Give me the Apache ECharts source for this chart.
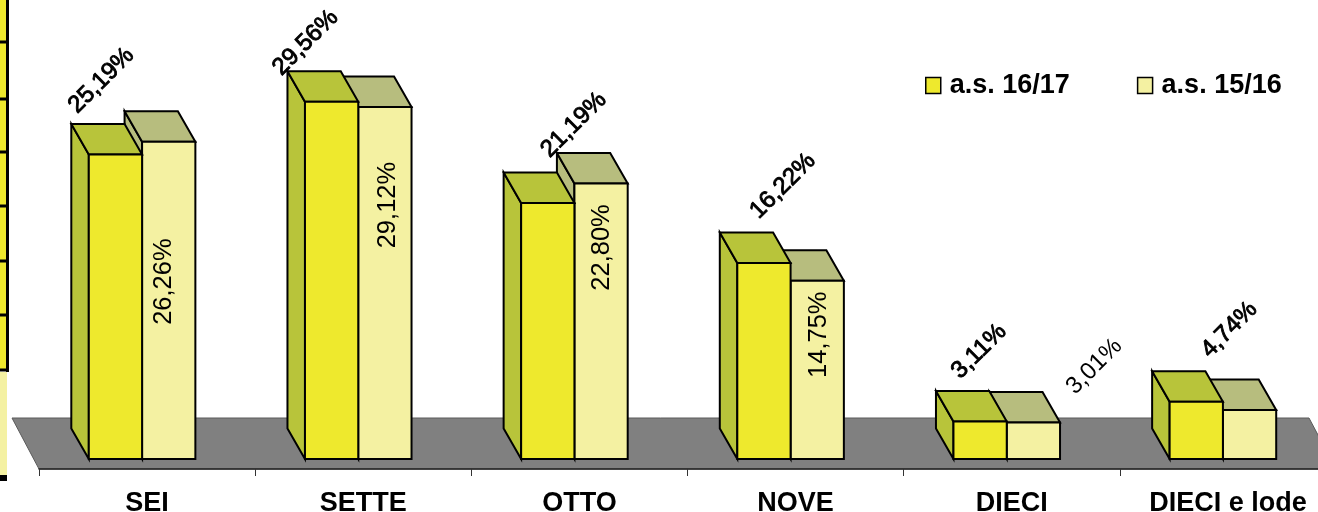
<!DOCTYPE html>
<html>
<head>
<meta charset="utf-8">
<style>html,body{margin:0;padding:0;background:#fff}#c{width:1318px;height:512px}</style>
<script src="https://cdn.jsdelivr.net/npm/echarts@6/dist/echarts.min.js"></script>
</head>
<body>
<div id="c"></div>
<script>
var categories = ['SEI','SETTE','OTTO','NOVE','DIECI','DIECI e lode'];
var values1617 = [25.19,29.56,21.19,16.22,3.11,4.74];
var values1516 = [26.26,29.12,22.80,14.75,3.01,4.06];
var labels1617 = ['25,19%','29,56%','21,19%','16,22%','3,11%','4,74%'];
var labels1516 = ['26,26%','29,12%','22,80%','14,75%','3,01%',''];

var FONT = '"Liberation Sans", Arial, sans-serif';
var DEPTH_X = 17.5, DEPTH_Y = 30.5;
var FLOOR_X = 27, FLOOR_BACK = 41, FLOOR_FRONT = 10;
var BAR_RATIO = 0.2465, BAR_SHIFT = -5;

// label placement relative to the top centre of each front face: [dx, dy, rotation in degrees]
var nudge1617 = [[-14,-74,45],[-26,-59,45],[26,-78,45],[19,-77,45],[-1,-70,45],[33,-72,45]];
var nudge1516 = [[-4.5,140,90],[3,98,90],[1,64,90],[2,54,90],[61,-56,45],[0,0,45]];

var poly = function (pts, fill) {
  return {type:'polygon', shape:{points:pts}, style:{fill:fill, stroke:'#000', lineWidth:2, lineJoin:'miter'}};
};

function barRenderer(isFirst, front, shade, labels, nudges, heavy) {
  return function (params, api) {
    var i = api.value(0), top = api.coord([i, api.value(1)]), base = api.coord([i, 0]);
    var band = api.size([1, 0])[0], w = band * BAR_RATIO;
    var x0 = top[0] + BAR_SHIFT + (isFirst ? -w : 0), x1 = x0 + w;
    var yT = top[1], yB = base[1];
    var kids = [
      poly([[x0,yT],[x0-DEPTH_X,yT-DEPTH_Y],[x0-DEPTH_X,yB-DEPTH_Y],[x0,yB]], shade),
      poly([[x0,yT],[x0-DEPTH_X,yT-DEPTH_Y],[x1-DEPTH_X,yT-DEPTH_Y],[x1,yT]], shade),
      poly([[x0,yT],[x1,yT],[x1,yB],[x0,yB]], front)
    ];
    var n = nudges[i];
    if (labels[i]) {
      var size = n[2] === 90 ? 25.5 : 24;
      var style = {text:labels[i], align:'center', verticalAlign:'middle', fill:'#000',
                   font:'normal ' + size + 'px ' + FONT};
      if (heavy) { style.stroke = '#000'; style.lineWidth = 0.9; }
      kids.push({type:'text', x:(x0+x1)/2+n[0], y:yT+n[1], rotation:n[2]*Math.PI/180, style:style});
    }
    return {type:'group', children:kids};
  };
}

function floorRenderer(params, api) {
  var base = api.coord([0, 0]), band = api.size([1, 0])[0];
  var xL = base[0]-band/2, xR = xL + band*categories.length;
  var yF = base[1]+FLOOR_FRONT, yB = base[1]-FLOOR_BACK;
  return {type:'polygon', shape:{points:[[xL,yF],[xL-FLOOR_X,yB],[xR-FLOOR_X,yB],[xR,yF]]},
          style:{fill:'#808080', stroke:'#5a5a5a', lineWidth:1}};
}

// fragment of a neighbouring table cropped at the left edge of the picture
var stripRows = [0,42,99,152,206,261,315,370];
var strip = [
  {type:'rect', shape:{x:0,y:0,width:7,height:371}, style:{fill:'#EEE92D'}},
  {type:'rect', shape:{x:6,y:0,width:3,height:372}, style:{fill:'#000'}},
  {type:'rect', shape:{x:0,y:372,width:7,height:103}, style:{fill:'#F4F1A2'}},
  {type:'rect', shape:{x:0,y:475,width:7,height:6}, style:{fill:'#000'}}
];
stripRows.slice(1).forEach(function (y) {
  strip.push({type:'rect', shape:{x:0,y:y-1.5,width:9,height:3}, style:{fill:'#000'}});
});

var chart = echarts.init(document.getElementById('c'), null, {renderer:'canvas'});
chart.setOption({
  animation:false,
  backgroundColor:'#fff',
  grid:{left:39, top:36, width:1297, height:423, containLabel:false, outerBoundsMode:'none'},
  legend:{
    left:920, top:67, itemWidth:15, itemHeight:16, itemGap:67, icon:'rect',
    textStyle:{fontFamily:FONT, fontSize:27, fontWeight:'bold', color:'#000', padding:[0,0,0,4]},
    data:[
      {name:'a.s. 16/17', itemStyle:{color:'#EEE92D', borderColor:'#000', borderWidth:1.5}},
      {name:'a.s. 15/16', itemStyle:{color:'#F4F1A2', borderColor:'#000', borderWidth:1.5}}
    ]
  },
  xAxis:{
    type:'category', data:categories, offset:FLOOR_FRONT, z:5,
    axisLine:{onZero:false, lineStyle:{color:'#222', width:1.5}},
    axisTick:{show:true, length:7, lineStyle:{color:'#333', width:1}},
    axisLabel:{interval:0, margin:21, color:'#000', fontFamily:FONT, fontWeight:'bold', fontSize:27},
    splitLine:{show:false}
  },
  yAxis:{type:'value', min:0, max:35, show:false, splitLine:{show:false}},
  graphic:{elements:strip},
  series:[
    {type:'custom', name:'floor', silent:true, clip:false, z:1, data:[[0,0]],
     encode:{x:0,y:1}, renderItem:floorRenderer},
    {type:'custom', name:'a.s. 15/16', clip:false, z:2,
     itemStyle:{color:'#F4F1A2'},
     data:values1516.map(function(v,i){return [i,v];}), encode:{x:0,y:1},
     renderItem:barRenderer(false,'#F4F1A2','#B7BD7E',labels1516,nudge1516,false)},
    {type:'custom', name:'a.s. 16/17', clip:false, z:3,
     itemStyle:{color:'#EEE92D'},
     data:values1617.map(function(v,i){return [i,v];}), encode:{x:0,y:1},
     renderItem:barRenderer(true,'#EEE92D','#B8C43A',labels1617,nudge1617,true)}
  ]
});
</script>
</body>
</html>
